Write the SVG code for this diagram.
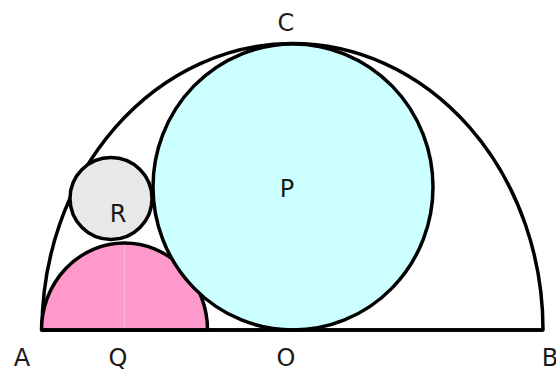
<svg xmlns="http://www.w3.org/2000/svg" width="556" height="372" viewBox="0 0 556 372">
<style>
.ln{stroke:#000;stroke-width:3.5;stroke-linejoin:round}
.lbl{font-family:"DejaVu Sans","Noto Sans",sans-serif;font-size:24px;fill:#1a1a1a;text-anchor:middle}
</style>
<rect width="556" height="372" fill="#fff"/>
<g id="big-semicircle">
<path class="ln" fill="none" d="M42,330 A250.5,286.5 0 0 1 543,330 Z"/>
</g>
<g id="semicircle-Q">
<path class="ln" fill="#ff99cc" d="M41.5,330 A83,87 0 0 1 207.5,330 Z"/>
<line x1="124.5" y1="245" x2="124.5" y2="328" stroke="#ffc0df" stroke-width="0.8"/>
</g>
<g id="circle-R">
<circle class="ln" cx="111" cy="198.5" r="41" fill="#e8e8e8"/>
</g>
<g id="circle-P">
<ellipse class="ln" cx="293" cy="187" rx="140" ry="143" fill="#ccffff"/>
</g>
<g id="baseline">
<line class="ln" x1="42" y1="330" x2="543" y2="330"/>
</g>
<g id="labels">
<text class="lbl" x="286" y="31">C</text>
<text class="lbl" x="287" y="197">P</text>
<text class="lbl" x="118" y="222">R</text>
<text class="lbl" x="22" y="366">A</text>
<text class="lbl" x="118" y="366">Q</text>
<text class="lbl" x="286" y="366">O</text>
<text class="lbl" x="550" y="366">B</text>
</g>
</svg>
